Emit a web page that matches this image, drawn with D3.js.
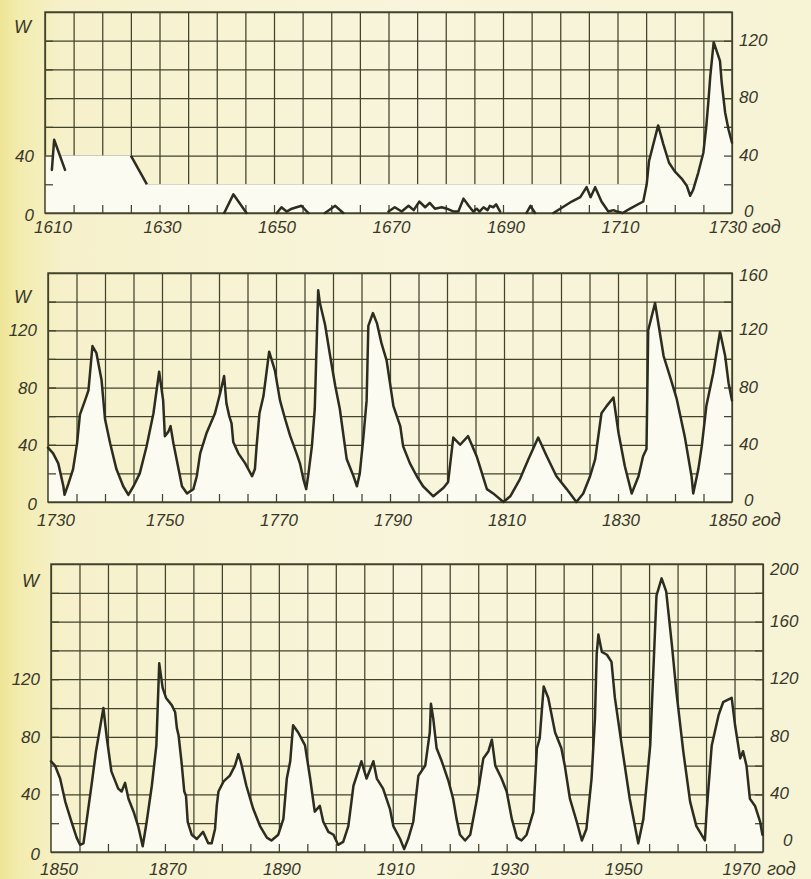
<!DOCTYPE html>
<html>
<head>
<meta charset="utf-8">
<script src="https://cdn.jsdelivr.net/npm/d3@7"></script>
<style>
  body { margin: 0; background: #f7f3d6; }
  svg { display: block; }
  text { font-family: "Liberation Sans", Arial, sans-serif; font-style: italic; fill: #38382a; }
</style>
</head>
<body>
<script>
// Wolf numbers. null = break in the line.

// 1610 - 1730
const years1 = [1611.2, 1611.6, 1613.5, null,
  1641.3, 1642.9, 1645.2, null,
  1650.5, 1651.3, 1652.2, 1653.1, 1654.8, 1656, null,
  1658.9, 1660.7, 1662.1, null,
  1670.0, 1671.1, 1672.3, 1673.5, 1674.4, 1675.4, 1676.4, 1677.2, 1678.1, 1679.3, 1680.2, 1681.4,
  1682.2, 1683.1, 1684, 1684.8, 1685.4, 1685.9, 1686.6, 1687.3, 1687.7, 1688.3, 1688.8, 1689.5, null,
  1694.1, 1694.8, 1695.6, null,
  1698.8, 1700, 1702, 1703.5, 1704.6, 1705.3, 1706.1, 1707.2, 1708.4, 1709.3, 1709.9, 1710.9,
  1712.2, 1714.5, 1715.1, 1715.5, 1717.1, 1718, 1719, 1720, 1721.2, 1722.1, 1722.7, 1723.2,
  1724.1, 1725, 1725.5, 1725.9, 1726.2, 1726.8, 1727.9, 1728.2, 1728.8, 1729.4, 1730];
const wolf1 = [30, 51, 30, null,
  0, 13, 0, null,
  0, 4, 1, 3, 5, 0, null,
  0, 5, 0, null,
  1, 4, 1, 5, 2, 8, 4, 7, 3, 4, 3, 1,
  1, 10, 5, 1, 3, 1, 4, 2, 5, 4, 6, 1, null,
  0, 5, 0, null,
  0, 3, 8, 11, 18, 11, 18, 8, 1, 2, 1, 0,
  3, 8, 20, 36, 61, 48, 35, 29, 24, 19, 12, 16,
  28, 42, 60, 79, 95, 119, 106, 91, 70, 58, 49];
// upper bound of the early estimates (white band)
const boundYears = [1610, 1625, 1627.8, 1730];
const boundValues = [40, 40, 20, 20];

// 1730 - 1850
const years2 = [1730, 1730.9, 1731.8, 1732.7, 1732.9, 1733.6, 1734.4, 1735.1, 1735.6, 1736.5, 1737.1, 1737.8,
  1738.5, 1739.4, 1740, 1740.9, 1742, 1743.2, 1744.1, 1745, 1746.1, 1747.3, 1748.5, 1749.5,
  1750.2, 1750.5, 1751.1, 1751.5, 1752, 1752.9, 1753.5, 1754.4, 1755.5, 1756.1, 1756.7, 1757.8,
  1759.3, 1760.2, 1760.9, 1761.3, 1761.8, 1762.2, 1762.5, 1763.4, 1764.6, 1765.8, 1766.3, 1766.6,
  1767.1, 1767.8, 1768.8, 1769.8, 1770.7, 1771.6, 1772.5, 1773.6, 1774.2, 1774.8, 1775.3, 1775.7,
  1776.3, 1776.8, 1777.4, 1777.7, 1778.6, 1779.5, 1780.4, 1781.2, 1782.4, 1783.6, 1784.2, 1784.7,
  1785.3, 1785.9, 1786.2, 1787, 1787.7, 1788.5, 1789.4, 1790.6, 1791.8, 1792.3, 1793.5, 1794.7,
  1795.8, 1797.6, 1799.4, 1800.2, 1801.1, 1802.3, 1803.7, 1805.2, 1807, 1808.1, 1809.9, 1811.1,
  1812.8, 1814.3, 1816, 1817.5, 1819.2, 1821, 1822.7, 1823.9, 1825.1, 1826, 1827.1, 1828,
  1829.2, 1830.1, 1831.2, 1832.4, 1833.6, 1834.4, 1835, 1835.3, 1836.5, 1838, 1839.1, 1840.3,
  1841.7, 1842.9, 1843.2, 1844.1, 1844.7, 1845.5, 1846.7, 1847.9, 1848.8, 1849.4, 1850];
const wolf2 = [38, 34, 27, 11, 5, 13, 23, 41, 61, 71, 78, 109,
  104, 85, 58, 41, 23, 11, 5, 11, 20, 39, 62, 91,
  71, 46, 49, 53, 41, 23, 11, 6, 9, 18, 34, 48,
  62, 76, 88, 69, 60, 55, 42, 34, 27, 18, 23, 39,
  62, 74, 105, 92, 71, 58, 46, 34, 27, 16, 9, 20,
  39, 65, 148, 139, 124, 102, 81, 65, 30, 18, 11, 20,
  44, 71, 123, 132, 125, 111, 99, 67, 53, 39, 27, 18,
  11, 4, 10, 14, 45, 40, 46, 32, 9, 6, 0, 4,
  16, 30, 45, 32, 18, 9, 0, 6, 18, 30, 62, 67,
  73, 48, 25, 6, 18, 32, 37, 120, 139, 102, 88, 72,
  46, 18, 6, 23, 39, 67, 90, 119, 102, 83, 71];

// 1850 - 1975
const years3 = [1850, 1850.7, 1851.6, 1852.5, 1853.6, 1854.5, 1855.1, 1855.7, 1856.3, 1857.1, 1857.9, 1859.2,
  1859.8, 1860.6, 1861.8, 1862.4, 1863, 1863.6, 1864.5, 1865.3, 1866.1, 1866.8, 1867.7, 1868.5,
  1869, 1869.6, 1870.2, 1871.2, 1871.8, 1872.1, 1872.4, 1872.9, 1873.4, 1873.7, 1874, 1874.7,
  1875.6, 1876.7, 1877.6, 1878.2, 1878.8, 1879.1, 1879.4, 1880.3, 1881.4, 1882.3, 1882.9, 1883.3,
  1884.3, 1885.5, 1886.7, 1887.9, 1888.7, 1889.9, 1890.8, 1891.4, 1892, 1892.5, 1893.4, 1894.6,
  1895.5, 1896.3, 1897.2, 1897.8, 1898.7, 1899.6, 1900.4, 1901.3, 1902.2, 1903.1, 1904.5, 1905.4,
  1906.6, 1907.2, 1908.3, 1909.5, 1910.1, 1911.3, 1912, 1912.7, 1913.6, 1914.5, 1915.7, 1916.5,
  1916.7, 1917.1, 1917.7, 1918.6, 1919.8, 1920.6, 1921.2, 1921.8, 1922.7, 1923.6, 1924.7, 1925.9,
  1926.8, 1927.4, 1928, 1929.1, 1930, 1930.9, 1931.8, 1932.6, 1933.5, 1934.7, 1935.3, 1935.8,
  1936.5, 1937.3, 1938.5, 1939.6, 1940.2, 1941.1, 1942.3, 1943.2, 1944, 1944.9, 1945.5, 1945.8,
  1946.1, 1946.7, 1947.6, 1948.4, 1949, 1950.2, 1951.6, 1953.1, 1954, 1955.2, 1956.3, 1957.2,
  1958, 1959, 1959.8, 1961, 1962.2, 1963.3, 1964.8, 1965.1, 1966, 1967.2, 1968, 1969.5,
  1970.1, 1971, 1971.5, 1972.1, 1972.7, 1973.6, 1974.5, 1974.9];
const wolf3 = [63, 60, 51, 35, 21, 10, 5, 6, 23, 46, 70, 100,
  79, 56, 44, 42, 48, 37, 28, 18, 4, 21, 46, 74,
  131, 114, 107, 102, 97, 86, 81, 63, 42, 39, 21, 12,
  9, 14, 6, 6, 16, 32, 42, 49, 53, 60, 68, 63,
  46, 30, 18, 10, 8, 12, 23, 51, 63, 88, 83, 74,
  51, 28, 32, 21, 14, 12, 5, 7, 18, 46, 63, 51,
  63, 51, 44, 30, 18, 9, 2, 9, 21, 53, 60, 83,
  103, 93, 72, 63, 49, 37, 23, 12, 8, 12, 35, 65,
  70, 78, 60, 51, 42, 23, 10, 8, 12, 28, 72, 79,
  115, 107, 83, 72, 60, 37, 21, 8, 16, 51, 93, 137,
  151, 139, 137, 132, 107, 74, 37, 6, 23, 74, 178, 190,
  181, 144, 111, 70, 35, 18, 8, 28, 74, 95, 104, 107,
  88, 65, 70, 60, 37, 32, 21, 12];

// tick labels
const xLabels1 = [1610, 1630, 1650, 1670, 1690, 1710, 1730];
const xLabels2 = [1730, 1750, 1770, 1790, 1810, 1830, 1850];
const xLabels3 = [1850, 1870, 1890, 1910, 1930, 1950, 1970];
const leftLabels1 = [0, 40];
const rightLabels1 = [0, 40, 80, 120];
const leftLabels2 = [0, 40, 80, 120];
const rightLabels2 = [0, 40, 80, 120, 160];
const leftLabels3 = [0, 40, 80, 120];
const rightLabels3 = [0, 40, 80, 120, 160, 200];
const unitLabel = "год";

const W = 811, H = 879;
const ink = "#2c2d1e", gridInk = "#42432d", paperLight = "#fcfbf1";

const svg = d3.select("body").append("svg").attr("width", W).attr("height", H);

const bg = svg.append("defs").append("linearGradient").attr("id", "paper");
bg.append("stop").attr("offset", "0%").attr("stop-color", "#efe596");
bg.append("stop").attr("offset", "2.5%").attr("stop-color", "#f3ecb0");
bg.append("stop").attr("offset", "8%").attr("stop-color", "#f6f1cb");
bg.append("stop").attr("offset", "50%").attr("stop-color", "#f8f5dc");
bg.append("stop").attr("offset", "100%").attr("stop-color", "#f7f3d5");
svg.append("rect").attr("width", W).attr("height", H).attr("fill", "url(#paper)");

const panels = [
  { left: 45, right: 732, top: 12, bottom: 213, x0: 1610, x1: 1730, ymax: 140,
    years: years1, wolf: wolf1, xLabels: xLabels1, leftLabels: leftLabels1, rightLabels: rightLabels1,
    labelDy: 20, wY: 33, lastEdge: true },
  { left: 48, right: 732, top: 273, bottom: 502, x0: 1730, x1: 1850, ymax: 160,
    years: years2, wolf: wolf2, xLabels: xLabels2, leftLabels: leftLabels2, rightLabels: rightLabels2,
    labelDy: 24, wY: 303, lastEdge: true },
  { left: 51, right: 763, top: 564, bottom: 852, x0: 1850, x1: 1975, ymax: 200,
    years: years3, wolf: wolf3, xLabels: xLabels3, leftLabels: leftLabels3, rightLabels: rightLabels3,
    labelDy: 23, wY: 587, lastEdge: false }
];

panels.forEach((p, i) => {
  const x = d3.scaleLinear().domain([p.x0, p.x1]).range([p.left, p.right]);
  const y = d3.scaleLinear().domain([0, p.ymax]).range([p.bottom, p.top]);
  const g = svg.append("g");
  const data = d3.zip(p.years, p.wolf);

  // grid
  g.append("g")
    .attr("transform", `translate(0,${p.bottom})`)
    .call(d3.axisBottom(x).tickValues(d3.range(p.x0, p.x1 + 0.1, 5)).tickSize(-(p.bottom - p.top)).tickFormat(""))
    .call(s => s.select(".domain").remove())
    .call(s => s.selectAll("line").attr("stroke", gridInk).attr("stroke-width", 1.25));
  g.append("g")
    .attr("transform", `translate(${p.left},0)`)
    .call(d3.axisLeft(y).tickValues(d3.range(0, p.ymax + 1, 20)).tickSize(-(p.right - p.left)).tickFormat(""))
    .call(s => s.select(".domain").remove())
    .call(s => s.selectAll("line").attr("stroke", gridInk).attr("stroke-width", 1.25));

  // white area under the curve hides the grid
  const area = d3.area()
    .defined(d => d[0] != null && d[1] != null)
    .x(d => x(d[0])).y0(y(0)).y1(d => y(d[1]));
  if (i === 0) {
    const bound = d3.zip(boundYears, boundValues);
    g.append("path").datum(bound).attr("d", area).attr("fill", paperLight);
  }
  g.append("path").datum(data).attr("d", area).attr("fill", paperLight);

  // short inner ticks on the frame
  g.append("g")
    .attr("transform", `translate(0,${p.bottom})`)
    .call(d3.axisBottom(x).tickValues(d3.range(p.x0 + 5, p.x1, 5)).tickSize(-8).tickFormat(""))
    .call(s => s.select(".domain").remove())
    .call(s => s.selectAll("line").attr("stroke", gridInk).attr("stroke-width", 1.25));
  g.append("g")
    .attr("transform", `translate(${p.left},0)`)
    .call(d3.axisLeft(y).tickValues(d3.range(20, p.ymax, 20)).tickSize(-8).tickFormat(""))
    .call(s => s.select(".domain").remove())
    .call(s => s.selectAll("line").attr("stroke", gridInk).attr("stroke-width", 1.25));
  g.append("g")
    .attr("transform", `translate(${p.right},0)`)
    .call(d3.axisRight(y).tickValues(d3.range(20, p.ymax, 20)).tickSize(-8).tickFormat(""))
    .call(s => s.select(".domain").remove())
    .call(s => s.selectAll("line").attr("stroke", gridInk).attr("stroke-width", 1.25));

  // frame
  g.append("rect")
    .attr("x", p.left).attr("y", p.top)
    .attr("width", p.right - p.left).attr("height", p.bottom - p.top)
    .attr("fill", "none").attr("stroke", gridInk).attr("stroke-width", 1.5);

  // curve
  const line = d3.line()
    .defined(d => d[0] != null && d[1] != null)
    .x(d => x(d[0])).y(d => y(d[1]));
  if (i === 0) {
    const bound = d3.zip(boundYears, boundValues).slice(1, 3);
    g.append("path").datum(bound).attr("d", line)
      .attr("fill", "none").attr("stroke", ink).attr("stroke-width", 2.5);
  }
  g.append("path").datum(data).attr("d", line)
    .attr("fill", "none").attr("stroke", ink).attr("stroke-width", 2.5)
    .attr("stroke-linejoin", "round").attr("stroke-linecap", "round");

  // year labels
  const last = p.xLabels.length - 1;
  g.selectAll("text.yr").data(p.xLabels).join("text")
    .attr("class", "yr")
    .attr("x", (d, k) => x(d) + (k === 0 ? 8 : k === last ? (p.lastEdge ? -4 : 7) : 3))
    .attr("y", p.bottom + p.labelDy)
    .attr("text-anchor", "middle")
    .attr("font-size", 17)
    .text(d => d);
  g.append("text")
    .attr("x", p.lastEdge ? p.right + 20 : p.right + 4)
    .attr("y", p.bottom + p.labelDy)
    .attr("font-size", 18)
    .text(unitLabel);

  // value labels
  g.selectAll("text.lv").data(p.leftLabels).join("text")
    .attr("class", "lv")
    .attr("x", p.left - 11)
    .attr("y", d => y(d) + (d === 0 ? 8 : 6))
    .attr("text-anchor", "end")
    .attr("font-size", 17)
    .text(d => d);
  g.selectAll("text.rv").data(p.rightLabels).join("text")
    .attr("class", "rv")
    .attr("x", d => (d === 0 && !p.lastEdge) ? p.right + 20 : p.right + (d === 0 ? 12 : 7))
    .attr("y", d => {
      if (d === 0) return p.lastEdge ? y(d) + 4 : y(d) - 6;
      if (d === p.ymax) return y(d) + (i === 2 ? 11 : 8);
      return y(d) + 5;
    })
    .attr("font-size", 17)
    .text(d => d);

  g.append("text")
    .attr("x", i === 2 ? 22 : 14)
    .attr("y", p.wY)
    .attr("font-size", 18)
    .text("W");
});
</script>
</body>
</html>
